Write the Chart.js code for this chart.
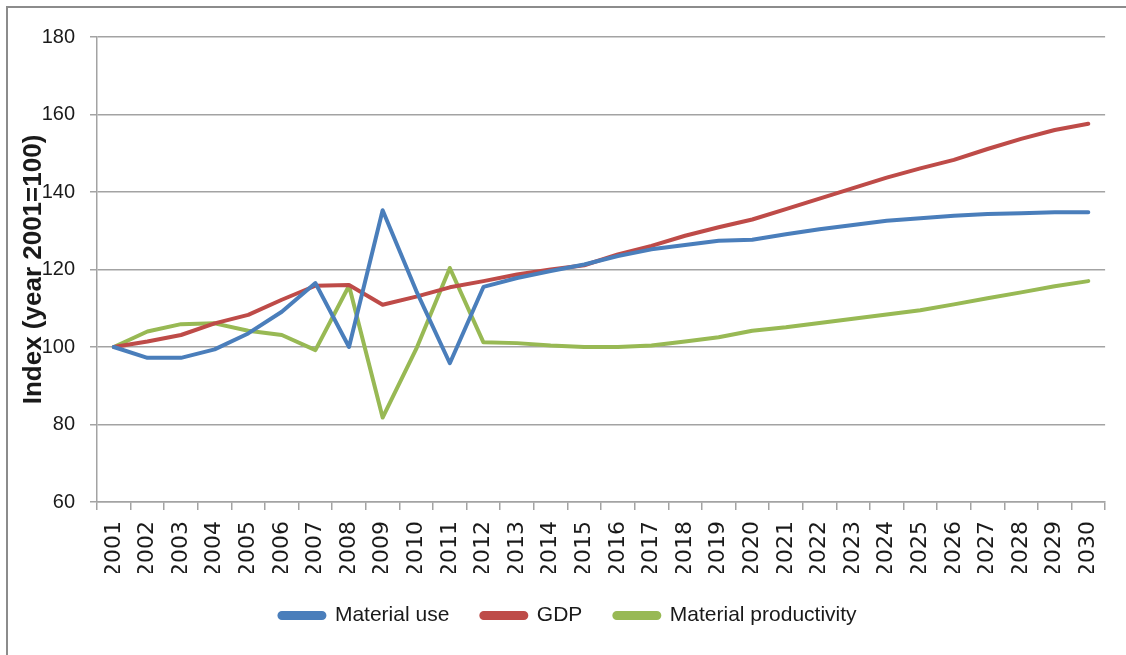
<!DOCTYPE html>
<html>
<head>
<meta charset="utf-8">
<script src="https://cdn.jsdelivr.net/npm/chart.js@4.4.1/dist/chart.umd.min.js"></script>
<style>
    html, body { margin: 0; padding: 0; background: #fff; overflow: hidden; }
    #wrap { position: relative; width: 1126px; height: 655px; }
    #frame {
        position: absolute; left: 6px; top: 6px; width: 1200px; height: 700px;
        border-left: 2px solid #8c8c8c; border-top: 2px solid #8c8c8c;
        pointer-events: none;
    }
    canvas { position: absolute; left: 0; top: 0; }
</style>
</head>
<body>
<div id="wrap">
    <canvas id="chart" width="1126" height="655"></canvas>
    <div id="frame"></div>
</div>
<script>
// years on the x axis
const years = ['2001', '2002', '2003', '2004', '2005', '2006', '2007', '2008', '2009', '2010',
    '2011', '2012', '2013', '2014', '2015', '2016', '2017', '2018', '2019', '2020',
    '2021', '2022', '2023', '2024', '2025', '2026', '2027', '2028', '2029', '2030'];

// index values, 2001 = 100
const materialUse = [100, 97.2, 97.2, 99.4, 103.5, 109.1, 116.5, 100.0, 135.3, 114.5,
    95.8, 115.5, 117.8, 119.6, 121.3, 123.5, 125.2, 126.3, 127.4, 127.7,
    129.1, 130.4, 131.5, 132.6, 133.2, 133.9, 134.3, 134.5, 134.8, 134.8];
const gdp = [100, 101.4, 103.1, 106.1, 108.3, 112.2, 115.8, 116.0, 110.9, 113.0,
    115.4, 117.0, 118.7, 120.0, 121.1, 123.9, 126.1, 128.7, 130.9, 132.9,
    135.6, 138.3, 141.0, 143.7, 146.1, 148.3, 151.1, 153.7, 156.0, 157.6];
const materialProductivity = [100, 104.0, 105.9, 106.1, 104.2, 103.1, 99.2, 115.8, 81.8, 99.5,
    120.4, 101.2, 101.0, 100.4, 100.0, 100.0, 100.4, 101.4, 102.5, 104.2,
    105.1, 106.2, 107.3, 108.4, 109.5, 111.0, 112.6, 114.1, 115.7, 117.0];

const yMin = 60, yMax = 180, yStep = 20;

function lineSet(label, data, color) {
    return {
        label: label,
        data: data,
        borderColor: color,
        backgroundColor: color,
        borderWidth: 4,
        pointRadius: 0,
        tension: 0,
        borderJoinStyle: 'round',
        borderCapStyle: 'round'
    };
}

const gridColor = '#a3a3a3';
const textColor = '#1a1a1a';

// nudge the legend a bit to the right, under the middle of the page
const legendShift = {
    id: 'legendShift',
    afterLayout(chart) {
        if (chart.legend) {
            chart.legend.left += 14;
            chart.legend.right += 14;
        }
    }
};

new Chart(document.getElementById('chart'), {
    type: 'line',
    data: {
        labels: years,
        datasets: [
            lineSet('Material use', materialUse, '#4a7ebb'),
            lineSet('GDP', gdp, '#be4b48'),
            lineSet('Material productivity', materialProductivity, '#98b954')
        ]
    },
    plugins: [legendShift],
    options: {
        responsive: false,
        animation: false,
        devicePixelRatio: 1,
        layout: { padding: { top: 37, right: 18, bottom: 19, left: 0 } },
        plugins: {
            tooltip: { enabled: false },
            legend: {
                position: 'bottom',
                labels: {
                    boxWidth: 45,
                    boxHeight: 5,
                    useBorderRadius: true,
                    borderRadius: 2.5,
                    padding: 32,
                    color: textColor,
                    font: { family: 'Liberation Sans', size: 21 }
                }
            }
        },
        scales: {
            x: {
                offset: true,
                grid: {
                    offset: true,
                    drawOnChartArea: false,
                    drawTicks: true,
                    tickLength: 8,
                    color: gridColor,
                    lineWidth: 1.5
                },
                border: { display: true, color: gridColor, width: 1.5 },
                ticks: {
                    autoSkip: false,
                    minRotation: 90,
                    maxRotation: 90,
                    padding: 11,
                    color: textColor,
                    font: { family: 'DejaVu Sans', size: 22 }
                },
                afterFit: function(scale) { scale.height = 71; }
            },
            y: {
                min: yMin,
                max: yMax,
                grid: {
                    color: gridColor,
                    lineWidth: 1.5,
                    tickLength: 7
                },
                border: { display: true, color: gridColor, width: 1.5 },
                ticks: {
                    stepSize: yStep,
                    padding: 15,
                    color: textColor,
                    font: { family: 'Liberation Sans', size: 20 }
                },
                title: {
                    display: true,
                    text: 'Index (year 2001=100)',
                    color: textColor,
                    padding: { top: 18, bottom: 0 },
                    font: { family: 'Liberation Sans', size: 26, weight: 'bold' }
                },
                afterFit: function(scale) { scale.width = 97; }
            }
        }
    }
});
</script>
</body>
</html>
